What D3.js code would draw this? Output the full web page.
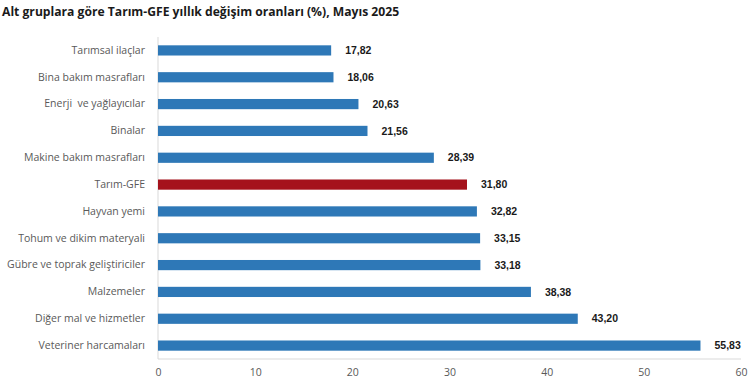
<!DOCTYPE html>
<html><head><meta charset="utf-8">
<script src="https://cdn.jsdelivr.net/npm/d3@7"></script>
<style>body{margin:0;background:#fff} text{white-space:pre}</style>
</head><body>
<svg id="c" width="750" height="385"></svg>
<script>
const categories = ["Tarımsal ilaçlar","Bina bakım masrafları","Enerji  ve yağlayıcılar","Binalar","Makine bakım masrafları","Tarım-GFE","Hayvan yemi","Tohum ve dikim materyali","Gübre ve toprak geliştiriciler","Malzemeler","Diğer mal ve hizmetler","Veteriner harcamaları"];
const values = [17.82,18.06,20.63,21.56,28.39,31.80,32.82,33.15,33.18,38.38,43.20,55.83];
const highlight = "Tarım-GFE";
const xTicks = [0,10,20,30,40,50,60];
const title = "Alt gruplara göre Tarım-GFE yıllık değişim oranları (%), Mayıs 2025";

const svg = d3.select("#c");
const x = d3.scaleLinear().domain([0,60]).range([158,741]);
const y = d3.scaleBand().domain(categories).range([37,359]).paddingInner(0.62).paddingOuter(0.31);

svg.append("text").attr("x",2).attr("y",16).text(title)
  .attr("font-family","Open Sans, sans-serif").attr("font-weight","bold").attr("font-size",12.15).attr("fill","#1a1a1a");

svg.append("line").attr("x1",x(0)).attr("x2",x(0)).attr("y1",37).attr("y2",359).attr("stroke","#d9d9d9");
svg.append("line").attr("x1",x(0)).attr("x2",x(60)).attr("y1",359).attr("y2",359).attr("stroke","#d9d9d9");

const xAxis = d3.axisBottom(x).tickValues(xTicks).tickSize(0).tickPadding(10).tickFormat(d3.format("d"));
const gx = svg.append("g").attr("transform","translate(0,359)").call(xAxis);
gx.select(".domain").remove();
gx.selectAll("text").attr("font-family","Open Sans, sans-serif").attr("font-size",10.5).attr("fill","#595959");

const yAxis = d3.axisLeft(y).tickSize(0).tickPadding(13);
const gy = svg.append("g").attr("transform",`translate(${x(0)},0)`).call(yAxis);
gy.select(".domain").remove();
gy.selectAll("text").attr("font-family","Open Sans, sans-serif").attr("font-size",10.5).attr("fill","#595959");

svg.append("g").selectAll("rect").data(values).join("rect")
  .attr("x",x(0)).attr("y",(d,i)=>y(categories[i]))
  .attr("width",d=>x(d)-x(0)).attr("height",y.bandwidth())
  .attr("fill",(d,i)=>categories[i]===highlight?"#A5121C":"#2E78B7");

const fmt = d => d.toFixed(2).replace(".",",");
svg.append("g").selectAll("text").data(values).join("text")
  .attr("x",d=>x(d)+14).attr("y",(d,i)=>y(categories[i])+y.bandwidth()/2)
  .attr("dy","0.35em").text(fmt)
  .attr("font-family","Liberation Sans, Arial, sans-serif").attr("font-weight","bold").attr("font-size",10.5).attr("fill","#1a1a1a");
</script>
</body></html>
